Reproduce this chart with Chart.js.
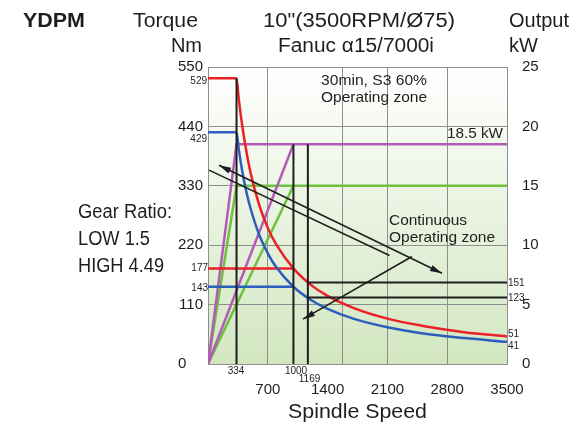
<!DOCTYPE html>
<html lang="en">
<head>
  <meta charset="UTF-8">
  <title>YDPM - Fanuc α15/7000i</title>
  <script src="https://cdn.jsdelivr.net/npm/chart.js"></script>
  <style>
    body { margin: 0; background: #fff; }
    #box { position: relative; width: 574px; height: 428px; }
  </style>
</head>
<body>
  <div id="box"><canvas id="grafico"></canvas></div>

  <script>
    // spindle speed (rpm) where the torque curves were read
    const speeds = [0, 334, 360, 400, 450, 500, 600, 700, 800, 1000, 1200, 1400, 1700, 2100, 2500, 3000, 3500];
    // 30min S3 60% torque (Nm) - red
    const torqueS3 = [529, 529, 491, 442, 393, 353, 294, 252, 221, 177, 147, 126, 104, 84, 71, 59, 51];
    // continuous torque (Nm) - blue
    const torqueCont = [429, 429, 398, 358, 318, 287, 239, 205, 179, 143, 119, 102, 84, 68, 57, 48, 41];

    // output power (kW)
    const powerSpeeds = [0, 334, 3500];
    const powerS3 = [0, 18.5, 18.5];
    const powerCont = [0, 15, 15];
    const rampSpeeds = [0, 1000];
    const rampS3 = [0, 18.5];
    const rampCont = [0, 15];

    // marked speeds, and how high their black line goes (Nm)
    const speedMarks = [334, 1000, 1169];
    const markTops = [529, 407, 407];
    const refTorques = [177, 143];     // red / blue at 1000 rpm
    const contTorques = [151, 123];    // black lines from 1169 rpm
    const endTorques = [51, 41];       // red / blue at 3500 rpm

    // arrows (rpm, Nm)
    const arrowUpperX = [129, 2739], arrowUpperY = [368, 168];
    const arrowLowerX = [12, 2125],  arrowLowerY = [359, 201];
    const arrowBranchX = [2388, 1112], arrowBranchY = [199, 83];

    // axes
    const speedTicks = [700, 1400, 2100, 2800, 3500];
    const speedGrid = [0, 700, 1570, 2100, 2800, 3500];   // vertical grid as drawn in the original
    const torqueMax = 550, torqueStep = 110;
    const powerMax = 25, powerStep = 5;

    const RED = '#ec2027', BLUE = '#2c5fbd', PURPLE = '#b35cb7', GREEN = '#6ec23f';
    const INK = '#1e1e1e', GRID = '#8f8f8f';
    const FONT = '"Liberation Sans", Arial, Helvetica, sans-serif';

    function linea(xs, ys, colore, spessore, asse, extra) {
      return Object.assign({
        data: xs.map((x, i) => ({ x: x, y: ys[i] })),
        borderColor: colore, backgroundColor: colore, borderWidth: spessore,
        yAxisID: asse || 'y', showLine: true, fill: false, tension: 0,
        pointRadius: 0, pointHoverRadius: 0
      }, extra || {});
    }

    const datasets = [
      linea(arrowUpperX, arrowUpperY, INK, 1.6, 'y', { arrows: ['start', 'end'] }),
      linea(arrowLowerX, arrowLowerY, INK, 1.6),
      linea(arrowBranchX, arrowBranchY, INK, 1.6, 'y', { arrows: ['end'] }),
      ...speedMarks.map((s, i) => linea([s, s], [0, markTops[i]], INK, 2)),
      ...contTorques.map(t => linea([speedMarks[2], 3500], [t, t], INK, 2)),
      linea(speeds, torqueS3, RED, 2.5, 'y', { cubicInterpolationMode: 'monotone' }),
      linea(speeds, torqueCont, BLUE, 2.5, 'y', { cubicInterpolationMode: 'monotone' }),
      linea([0, speedMarks[1]], [refTorques[0], refTorques[0]], RED, 2.5),
      linea([0, speedMarks[1]], [refTorques[1], refTorques[1]], BLUE, 2.5),
      linea(powerSpeeds, powerS3, PURPLE, 2.5, 'y2'),
      linea(rampSpeeds, rampS3, PURPLE, 2.5, 'y2'),
      linea(powerSpeeds, powerCont, GREEN, 2.5, 'y2'),
      linea(rampSpeeds, rampCont, GREEN, 2.5, 'y2')
    ];

    // green gradient behind the plot
    const sfondo = {
      id: 'sfondo',
      beforeDraw(chart) {
        const a = chart.chartArea, c = chart.ctx;
        const g = c.createLinearGradient(0, a.top, 0, a.bottom);
        g.addColorStop(0, '#ffffff');
        g.addColorStop(0.5, '#e9f3e0');
        g.addColorStop(1, '#d2e7c0');
        c.save();
        c.fillStyle = g;
        c.fillRect(a.left, a.top, a.right - a.left, a.bottom - a.top);
        c.restore();
      }
    };

    // arrow heads at the ends of the black arrow lines
    const frecce = {
      id: 'frecce',
      afterDatasetsDraw(chart) {
        const c = chart.ctx;
        chart.data.datasets.forEach((ds, i) => {
          if (!ds.arrows) return;
          const p = chart.getDatasetMeta(i).data;
          ds.arrows.forEach(fine => {
            const a = fine === 'start' ? p[1] : p[p.length - 2];
            const b = fine === 'start' ? p[0] : p[p.length - 1];
            const ang = Math.atan2(b.y - a.y, b.x - a.x);
            c.save();
            c.translate(b.x, b.y);
            c.rotate(ang);
            c.beginPath();
            c.moveTo(0, 0);
            c.lineTo(-12, -3.2);
            c.lineTo(-12, 3.2);
            c.closePath();
            c.fillStyle = INK;
            c.fill();
            c.restore();
          });
        });
      }
    };

    function scritta(c, testo, x, y, size, larg, align, bold) {
      c.save();
      c.font = (bold ? 'bold ' : '') + size + 'px ' + FONT;
      c.textBaseline = 'middle';
      c.textAlign = 'left';
      const nat = c.measureText(testo).width;
      const k = larg ? larg / nat : 1;
      const w = nat * k;
      let x0 = x;
      if (align === 'right') x0 = x - w;
      else if (align === 'center') x0 = x - w / 2;
      c.translate(x0, y);
      c.scale(k, 1);
      c.fillStyle = INK;
      c.fillText(testo, 0, 0);
      c.restore();
    }

    // titles, notes and the small value labels
    const testi = {
      id: 'testi',
      afterDraw(chart) {
        const c = chart.ctx;
        scritta(c, 'YDPM', 23, 21, 20, 62, 'left', true);
        scritta(c, 'Torque', 198, 21, 20, 65, 'right');
        scritta(c, 'Nm', 202, 46, 20, 0, 'right');
        scritta(c, '10"(3500RPM/Ø75)', 263, 21, 20, 192, 'left');
        scritta(c, 'Fanuc α15/7000i', 278, 46, 20, 156, 'left');
        scritta(c, 'Output', 509, 21, 20, 0, 'left');
        scritta(c, 'kW', 509, 46, 20, 0, 'left');

        scritta(c, 'Gear Ratio:', 78, 212, 20, 94, 'left');
        scritta(c, 'LOW 1.5', 78, 239, 20, 72, 'left');
        scritta(c, 'HIGH 4.49', 78, 266, 20, 86, 'left');
        scritta(c, 'Spindle Speed', 288, 412, 21, 139, 'left');

        scritta(c, '30min, S3 60%', 321, 80.5, 15, 106, 'left');
        scritta(c, 'Operating zone', 321, 97.5, 15, 106, 'left');
        scritta(c, '18.5 kW', 447, 134, 15, 56, 'left');
        scritta(c, 'Continuous', 389, 220.5, 15, 78, 'left');
        scritta(c, 'Operating zone', 389, 237.5, 15, 106, 'left');

        scritta(c, String(markTops[0]), 207, 81.5, 10, 0, 'right');
        scritta(c, String(torqueCont[0]), 207, 139.5, 10, 0, 'right');
        scritta(c, String(refTorques[0]), 208, 268.5, 10, 0, 'right');
        scritta(c, String(refTorques[1]), 208, 288, 10, 0, 'right');
        scritta(c, String(contTorques[0]), 508, 283.5, 10, 0, 'left');
        scritta(c, String(contTorques[1]), 508, 298.5, 10, 0, 'left');
        scritta(c, String(endTorques[0]), 508, 334, 10, 0, 'left');
        scritta(c, String(endTorques[1]), 508, 346, 10, 0, 'left');
        scritta(c, String(speedMarks[0]), 236, 371.5, 10, 0, 'center');
        scritta(c, String(speedMarks[1]), 296, 371.5, 10, 0, 'center');
        scritta(c, String(speedMarks[2]), 309.5, 379.5, 10, 0, 'center');
      }
    };

    const tickFont = { family: FONT, size: 15 };

    new Chart(document.getElementById('grafico'), {
      type: 'scatter',
      data: { datasets: datasets },
      plugins: [sfondo, frecce, testi],
      options: {
        responsive: true,
        maintainAspectRatio: false,
        animation: false,
        events: [],
        layout: { padding: { top: 67, left: 0, right: 0, bottom: 0 } },
        plugins: { legend: { display: false }, tooltip: { enabled: false } },
        scales: {
          x: {
            type: 'linear', min: 0, max: 3500,
            afterBuildTicks: s => {
              const v = [...new Set([...speedGrid, ...speedTicks])].sort((a, b) => a - b);
              s.ticks = v.map(value => ({ value: value }));
            },
            afterFit: s => { s.height = 64; },
            ticks: {
              autoSkip: false, maxRotation: 0, padding: 17, color: INK, font: tickFont,
              callback: v => speedTicks.includes(v) ? String(v) : ''
            },
            grid: {
              drawTicks: false, lineWidth: 1,
              color: ctx => (ctx.tick && speedGrid.includes(ctx.tick.value)) ? GRID : 'rgba(0,0,0,0)'
            },
            border: { display: true, color: GRID }
          },
          y: {
            type: 'linear', position: 'left', min: 0, max: torqueMax,
            afterFit: s => { s.width = 208; },
            ticks: {
              stepSize: torqueStep, padding: 5, color: INK, font: tickFont,
              // the zero sits further left in the original
              callback: v => v === 0 ? '0    ' : String(v)
            },
            grid: { drawTicks: false, color: GRID, lineWidth: 1 },
            border: { display: true, color: GRID }
          },
          y2: {
            type: 'linear', position: 'right', min: 0, max: powerMax,
            afterFit: s => { s.width = 67; },
            ticks: { stepSize: powerStep, padding: 15, color: INK, font: tickFont },
            grid: { display: false, drawTicks: false },
            border: { display: true, color: GRID }
          }
        }
      }
    });
  </script>
</body>
</html>
